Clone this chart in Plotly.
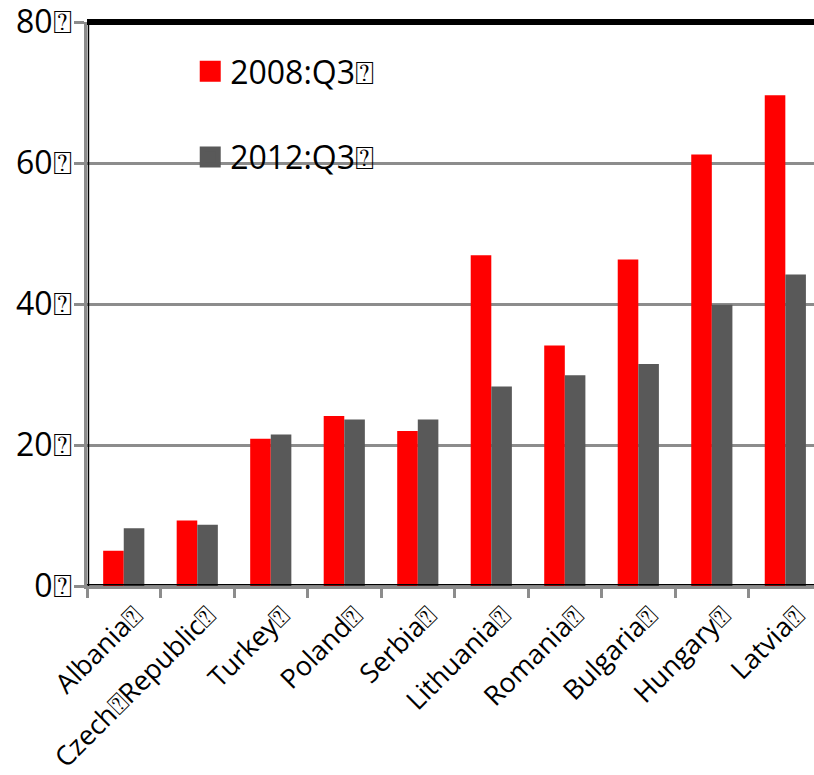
import plotly.graph_objects as go

# Country categories (x axis) and the two quarterly series
countries = ["Albania⍰", "Czech⍰Republic⍰", "Turkey⍰", "Poland⍰", "Serbia⍰",
             "Lithuania⍰", "Romania⍰", "Bulgaria⍰", "Hungary⍰", "Latvia⍰"]
series_2008 = [5.0, 9.3, 20.9, 24.1, 22.0, 46.9, 34.1, 46.3, 61.2, 69.6]
series_2012 = [8.2, 8.7, 21.5, 23.6, 23.6, 28.3, 29.9, 31.5, 39.9, 44.2]
series_names = ["2008:Q3⍰", "2012:Q3⍰"]
series_colors = ["#ff0000", "#595959"]

y_tickvals = [0, 20, 40, 60, 80]
y_ticktext = ["0⍰", "20⍰", "40⍰", "60⍰", "80⍰"]

FONT = "Open Sans, Noto Sans, DejaVu Sans, sans-serif"
GRID = "#8c8c8c"

fig = go.Figure()

for name, vals, col, grp in zip(series_names, [series_2008, series_2012],
                                series_colors, ["a", "b"]):
    fig.add_trace(go.Bar(x=countries, y=vals, name=name, marker_color=col,
                         marker_line_width=0, showlegend=False,
                         legendgroup=grp))
    # legend entry with a larger square swatch
    fig.add_trace(go.Scatter(x=[None], y=[None], mode="markers", name=name,
                             marker=dict(symbol="square", size=16, color=col,
                                         line=dict(color=col, width=5)),
                             legendgroup=grp, showlegend=True))

fig.update_layout(
    width=814, height=775,
    margin=dict(l=87, r=0, t=22, b=189),
    paper_bgcolor="white", plot_bgcolor="white",
    barmode="group", bargap=0.44, bargroupgap=0,
    font=dict(family=FONT, color="black"),
    showlegend=True,
    legend=dict(x=0.142, y=0.961, xanchor="left", yanchor="top",
                bgcolor="rgba(0,0,0,0)", font=dict(size=32, family=FONT),
                traceorder="grouped", tracegroupgap=41, itemwidth=30),
    xaxis=dict(range=[-0.5, 9.39], tickson="boundaries", ticks="outside",
               ticklen=9, tickwidth=3, tickcolor=GRID, tickangle=-45,
               tickfont=dict(size=27, family=FONT), showgrid=False,
               showline=True, linecolor=GRID, linewidth=3, zeroline=False,
               automargin=False, ticklabeloverflow="allow",
               ticklabelshift=11),
    yaxis=dict(range=[0, 80], tickvals=y_tickvals, ticktext=y_ticktext,
               ticks="outside", ticklen=10, tickwidth=3, tickcolor=GRID,
               tickfont=dict(size=32, family=FONT), showgrid=True,
               gridcolor=GRID, gridwidth=3, showline=True, linecolor=GRID,
               linewidth=3, zeroline=False, automargin=False,
               ticklabeloverflow="allow", ticklabelstandoff=-4),
    shapes=[
        # thick frame line along the top of the plot
        dict(type="line", xref="paper", yref="paper", x0=0, x1=1, y0=1, y1=1,
             line=dict(color="black", width=6), layer="above"),
        # thin dark inner edges along the axes
        dict(type="line", xref="paper", yref="paper", x0=0, x1=1, y0=0.002,
             y1=0.002, line=dict(color="black", width=1.5), layer="above"),
        dict(type="line", xref="paper", yref="paper", x0=0.002, x1=0.002,
             y0=0, y1=1, line=dict(color="black", width=1.5), layer="above"),
    ],
)

fig.write_html("out.html")
